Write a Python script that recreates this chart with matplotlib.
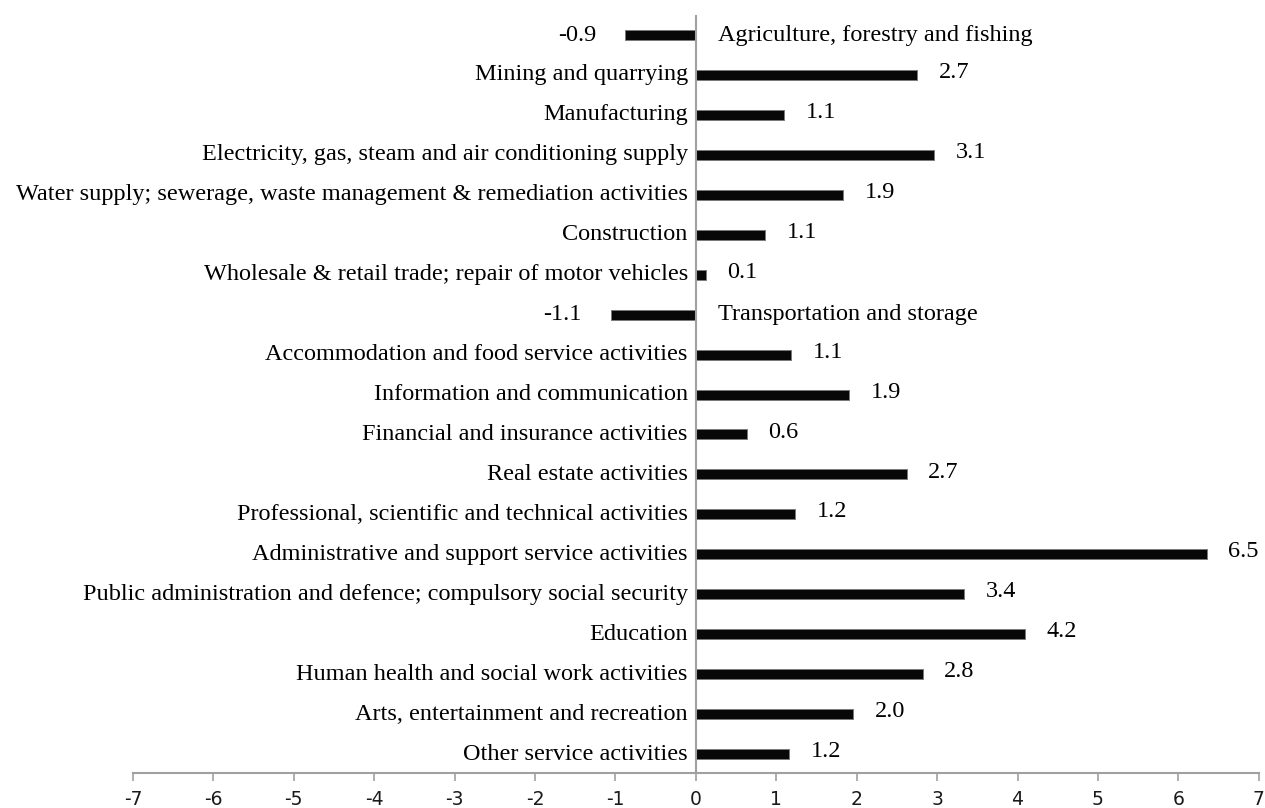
import matplotlib
matplotlib.use("Agg")
import matplotlib.pyplot as plt

# sectors, top to bottom
sectors = [
    "Agriculture, forestry and fishing",
    "Mining and quarrying",
    "Manufacturing",
    "Electricity, gas, steam and air conditioning supply",
    "Water supply; sewerage, waste management & remediation activities",
    "Construction",
    "Wholesale & retail trade; repair of motor vehicles",
    "Transportation and storage",
    "Accommodation and food service activities",
    "Information and communication",
    "Financial and insurance activities",
    "Real estate activities",
    "Professional, scientific and technical activities",
    "Administrative and support service activities",
    "Public administration and defence; compulsory social security",
    "Education",
    "Human health and social work activities",
    "Arts, entertainment and recreation",
    "Other service activities",
]
# bar lengths as drawn
bar_len = [-0.88, 2.75, 1.1, 2.96, 1.83, 0.86, 0.12, -1.06, 1.18, 1.91,
           0.63, 2.62, 1.23, 6.35, 3.34, 4.09, 2.82, 1.95, 1.16]
# printed data labels
val_txt = ["-0.9", "2.7", "1.1", "3.1", "1.9", "1.1", "0.1", "-1.1", "1.1", "1.9",
           "0.6", "2.7", "1.2", "6.5", "3.4", "4.2", "2.8", "2.0", "1.2"]
xticks = list(range(-7, 8))

serif = "Liberation Serif"
fs = 17.5

fig = plt.figure(figsize=(12.65, 8.08), dpi=100)
ax = fig.add_axes([0.1051, 0.0433, 0.890, 0.9381])

ypos = list(range(len(sectors)))
ax.barh(ypos, bar_len, height=0.25, color="#080808", edgecolor="#7a7a7a", linewidth=0.7, zorder=2)
ax.axvline(0, color="#a0a0a0", linewidth=1.5, zorder=3)

for i in ypos:
    v = bar_len[i]
    if v >= 0:
        ax.text(-0.1, i, sectors[i], ha="right", va="center", family=serif, fontsize=fs)
        ax.text(v + 0.27, i - 0.06, val_txt[i], ha="left", va="center", family=serif, fontsize=fs)
    else:
        ax.text(0.28, i, sectors[i], ha="left", va="center", family=serif, fontsize=fs)
        ax.text(v - 0.36, i, val_txt[i], ha="right", va="center", family=serif, fontsize=fs)

ax.set_xlim(-7, 7)
ax.set_ylim(18.475, -0.5)
ax.set_xticks(xticks)
ax.set_xticklabels([str(t) for t in xticks])
ax.set_yticks([])
for s in ["top", "left", "right"]:
    ax.spines[s].set_visible(False)
ax.spines["bottom"].set_color("#a0a0a0")
ax.spines["bottom"].set_linewidth(1.5)
ax.tick_params(axis="x", direction="out", length=6, width=1.2, color="#a0a0a0",
               pad=6, labelsize=13.5, labelcolor="#1a1a1a")

fig.savefig("out.png", dpi=100)
